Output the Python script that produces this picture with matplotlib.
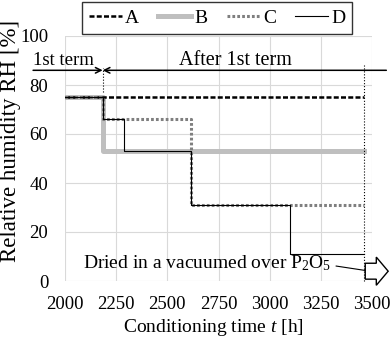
import matplotlib
matplotlib.use("Agg")
import matplotlib.pyplot as plt
import matplotlib.patches as mpatches

plt.rcParams['font.family'] = ['Liberation Serif', 'DejaVu Serif']
plt.rcParams['mathtext.fontset'] = 'custom'
plt.rcParams['mathtext.rm'] = 'Liberation Serif'
plt.rcParams['mathtext.it'] = 'Liberation Serif:italic'

# conditioning schedule (time in h, RH in %)
t_A = [2000, 3460]
rh_A = [75, 75]
t_B = [2000, 2184, 3460]
rh_B = [75, 53, 53]
t_C = [2000, 2184, 2616, 3460]
rh_C = [75, 66, 31, 31]
t_D = [2000, 2184, 2290, 2616, 3100, 3460]
rh_D = [75, 66, 53, 31, 11, 11]

first_term_end = 2184
final_time = 3460
xticks = [2000, 2250, 2500, 2750, 3000, 3250, 3500]
yticks = [0, 20, 40, 60, 80, 100]

fig = plt.figure(figsize=(3.92, 3.42), dpi=100)
ax = fig.add_axes([65/392, 1-281/342, 307/392, 245/342])

ax.step(t_B, rh_B, where='post', color='#bfbfbf', lw=3.6, label='B', zorder=2)
ax.step(t_A, rh_A, where='post', color='black', lw=1.8, dashes=(2.0, 0.9), label='A', zorder=3)
ax.step(t_C, rh_C, where='post', color='#7f7f7f', lw=2.2, dashes=(0.9, 0.7), label='C', zorder=4)
ax.step(t_D, rh_D, where='post', color='black', lw=0.8, label='D', zorder=5)

ax.set_xlim(2000, 3500)
ax.set_ylim(0, 100)
ax.set_xticks(xticks)
ax.set_yticks(yticks)
ax.grid(color='#d9d9d9', lw=0.8)
for s in ax.spines.values():
    s.set_visible(False)
ax.tick_params(length=0, labelsize=13.5)
ax.tick_params(axis='x', pad=11)
ax.tick_params(axis='y', pad=12)
fig.text(213.5/392, 1-328/342, 'Conditioning time $t$ [h]', fontsize=14, ha='center', va='center')
fig.text(11/392, 1-141/342, 'Relative humidity RH [%]', fontsize=16.5, ha='center', va='center',
         rotation=90)

# term markers
ax.plot([first_term_end, first_term_end], [77, 87], color='black', lw=0.8, ls=':', clip_on=False)
ax.plot([final_time, final_time], [0, 88], color='black', lw=0.8, ls=':', clip_on=False)
ax.annotate('', xy=(first_term_end, 86), xytext=(1844, 86), annotation_clip=False,
            arrowprops=dict(arrowstyle='->', color='black', lw=1.1, shrinkA=0, shrinkB=0))
ax.annotate('', xy=(first_term_end, 86), xytext=(3570, 86), annotation_clip=False,
            arrowprops=dict(arrowstyle='->', color='black', lw=1.1, shrinkA=0, shrinkB=0))
ax.text(1844, 88.2, '1st term', fontsize=13.5, va='baseline', ha='left')
ax.text(2835, 88.2, 'After 1st term', fontsize=14.5, va='baseline', ha='center')

# drying note
ax.text(2088, 7.3, 'Dried in a vacuumed over P$_2$O$_5$', fontsize=14, va='center', ha='left')
ax.plot([3325, 3491], [6.1, 4.0], color='black', lw=0.8, clip_on=False)
ax.add_patch(mpatches.FancyArrow(3467, 4, 112, 0, width=6.5, head_width=11.5, head_length=58,
                                 length_includes_head=True, fc='white', ec='black', lw=1.0,
                                 clip_on=False, zorder=6))

h, l = ax.get_legend_handles_labels()
order = [l.index(k) for k in ['A', 'B', 'C', 'D']]
fig.legend([h[i] for i in order], [l[i] for i in order], loc='center',
           bbox_to_anchor=(217/392, 1-18/342), ncol=4, fontsize=14, frameon=True,
           fancybox=False, edgecolor='black', handlelength=1.7, handletextpad=0.15,
           columnspacing=1.0, borderpad=0.35)

fig.savefig('out.png', dpi=100)
